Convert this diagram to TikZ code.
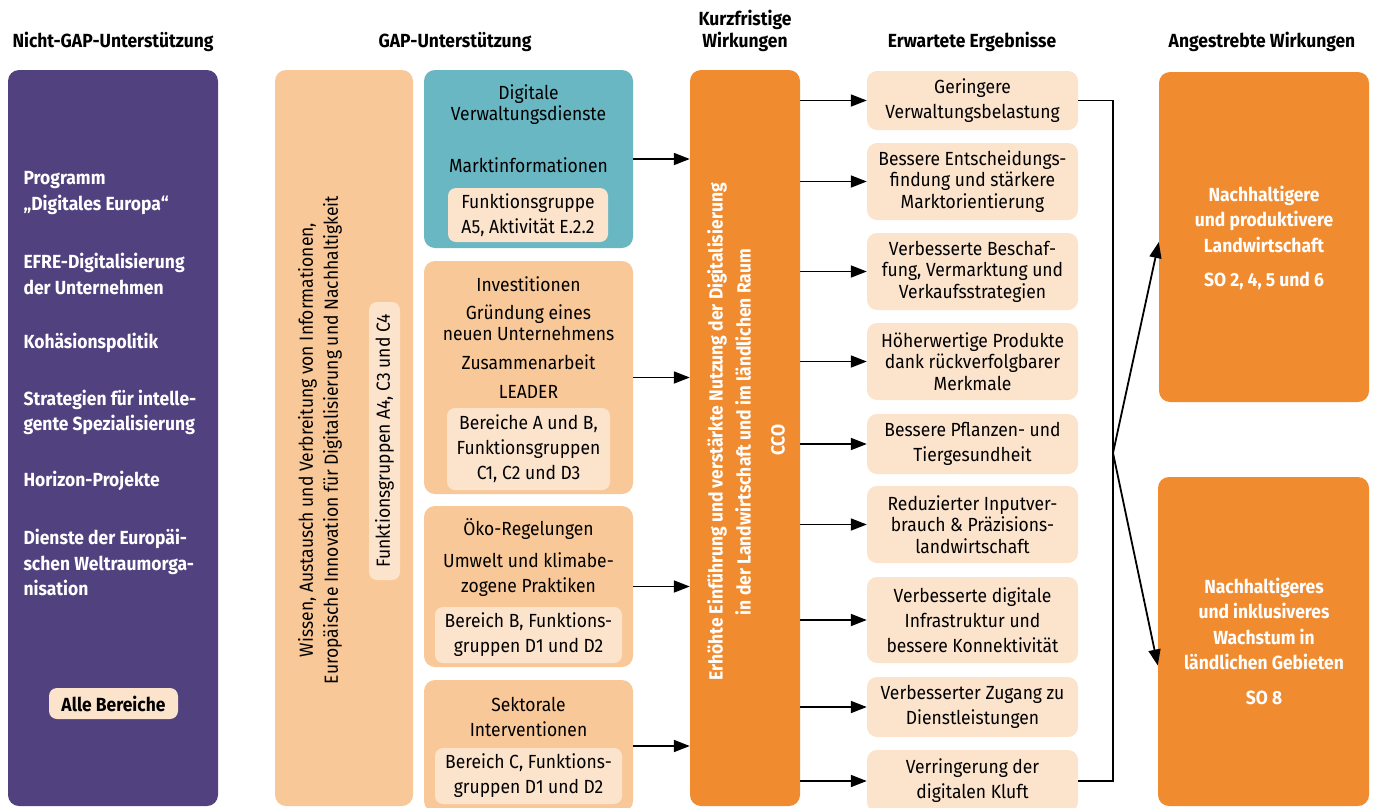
\documentclass[tikz,border=0pt]{standalone}
\usepackage{fontspec}
\setmainfont{Fira Sans}[FakeStretch=0.92]
\usetikzlibrary{arrows.meta}
\definecolor{lila}{HTML}{51417F}
\definecolor{peach}{HTML}{F9C898}
\definecolor{pale}{HTML}{FCE3CC}
\definecolor{petrol}{HTML}{69B7C3}
\definecolor{amber}{HTML}{F08B30}
\tikzset{
  panel/.style={rounded corners=11pt, inner sep=0pt},
  inbox/.style={fill=pale, rounded corners=8pt, inner sep=0pt, align=center, font=\fontsize{19}{25}\selectfont},
  txt/.style={align=center, font=\fontsize{19}{25}\selectfont},
  tight/.style={align=center, font=\fontsize{19}{21.5}\selectfont},
  wlab/.style={text=white, anchor=west, align=left, font=\bfseries\fontsize{19}{25.5}\selectfont},
  wbold/.style={text=white, align=center, font=\bfseries\fontsize{19}{25.5}\selectfont},
  head/.style={align=center, font=\bfseries\fontsize{19}{22}\selectfont},
  res/.style={fill=pale, rounded corners=10pt, inner sep=0pt, minimum width=211pt},
  link/.style={draw=black, line width=1.8pt},
  arr/.style={link, -{Triangle[length=16pt,width=12pt]}},
}
\begin{document}
\begin{tikzpicture}[x=1pt,y=-1pt]
  \useasboundingbox (0,0) rectangle (1377,807);

  % column heads
  \node[head] (hngap) at (113,42) {Nicht-GAP-Unterstützung};
  \node[head] (hgap) at (455,42) {GAP-Unterstützung};
  \node[head] (hkurz) at (745,31) {Kurzfristige\\Wirkungen};
  \node[head] (herg) at (972,42) {Erwartete Ergebnisse};
  \node[head] (hziel) at (1262,42) {Angestrebte Wirkungen};

  % non-GAP column
  \node[panel, fill=lila, minimum width=210pt, minimum height=736pt] (ngap) at (113,438) {};
  \node[wlab] (prog) at (20,193) {Programm\\„Digitales Europa“};
  \node[wlab] (efre) at (20,274) {EFRE-Digitalisierung\\der Unternehmen};
  \node[wlab] (koh) at (20,343) {Kohäsionspolitik};
  \node[wlab] (strat) at (20,412.5) {Strategien für intelle-\\gente Spezialisierung};
  \node[wlab] (hor) at (20,481) {Horizon-Projekte};
  \node[wlab] (esa) at (20,562.5) {Dienste der Europäi-\\schen Weltraumorga-\\nisation};
  \node[inbox, font=\bfseries\fontsize{19}{20}\selectfont, minimum width=129pt, minimum height=31pt] (alle) at (113.5,703.5) {Alle Bereiche};

  % GAP column
  \node[panel, fill=peach, minimum width=138pt, minimum height=736pt] (akis) at (344,438) {};
  \node[txt, rotate=90] (akistxt) at (320,440) {Wissen, Austausch und Verbreitung von Informationen,\\Europäische Innovation für Digitalisierung und Nachhaltigkeit};
  \node[inbox, rotate=90, minimum width=278pt, minimum height=31pt] (akisfg) at (384.5,441) {Funktionsgruppen A4, C3 und C4};

  \node[panel, fill=petrol, minimum width=209pt, minimum height=178pt] (dig) at (528.5,159) {};
  \node[tight] (digt) at (528.5,104.5) {Digitale\\Verwaltungsdienste};
  \node[txt] (markt) at (528.5,165) {Marktinformationen};
  \node[inbox, minimum width=160pt, minimum height=54pt] (digfg) at (528,215) {Funktionsgruppe\\A5, Aktivität E.2.2};

  \node[panel, fill=peach, minimum width=209pt, minimum height=233pt] (inv) at (528.5,377.5) {};
  \node[txt] (invt) at (528.5,284) {Investitionen};
  \node[tight] (gruend) at (528.5,322.5) {Gründung eines\\neuen Unternehmens};
  \node[txt] (zus) at (528.5,362) {Zusammenarbeit};
  \node[txt] (leader) at (528.5,392) {LEADER};
  \node[inbox, minimum width=163pt, minimum height=82pt] (invfg) at (528.5,449) {Bereiche A und B,\\Funktionsgruppen\\C1, C2 und D3};

  \node[panel, fill=peach, minimum width=209pt, minimum height=161pt] (oeko) at (528.5,586.5) {};
  \node[txt] (oekot) at (528.5,529) {Öko-Regelungen};
  \node[txt] (umw) at (528.5,575) {Umwelt und klimabe-\\zogene Praktiken};
  \node[inbox, minimum width=187pt, minimum height=56pt] (oekofg) at (528.5,635) {Bereich B, Funktions-\\gruppen D1 und D2};

  \node[panel, fill=peach, minimum width=209pt, minimum height=132pt] (sekt) at (528.5,746) {};
  \node[txt] (sektt) at (528.5,716.5) {Sektorale\\Interventionen};
  \node[inbox, minimum width=187pt, minimum height=56pt] (sektfg) at (528.5,776) {Bereich C, Funktions-\\gruppen D1 und D2};

  % short-term effect
  \node[panel, fill=amber, minimum width=110pt, minimum height=736pt] (cco) at (745,438) {};
  \node[wbold, font=\bfseries\fontsize{19}{28}\selectfont, rotate=90] (ccotxt) at (729,432) {Erhöhte Einführung und verstärkte Nutzung der Digitalisierung\\in der Landwirtschaft und im ländlichen Raum};
  \node[wbold, rotate=90] (ccolab) at (778,440) {CCO};

  \foreach \src in {dig,inv,oeko,sekt}
    \draw[arr] (\src.east) -- (\src.east -| cco.west);

  % expected results
  \node[res, txt, minimum height=59pt] (r1) at (972.5,100.5) {Geringere\\Verwaltungsbelastung};
  \node[res, tight, minimum height=77pt] (r2) at (972.5,181.5) {Bessere Entscheidungs-\\findung und stärkere\\Marktorientierung};
  \node[res, tight, minimum height=77pt] (r3) at (972.5,271.5) {Verbesserte Beschaf-\\fung, Vermarktung und\\Verkaufsstrategien};
  \node[res, tight, minimum height=77pt] (r4) at (972.5,361.5) {Höherwertige Produkte\\dank rückverfolgbarer\\Merkmale};
  \node[res, txt, minimum height=60pt] (r5) at (972.5,444) {Bessere Pflanzen- und\\Tiergesundheit};
  \node[res, tight, minimum height=77pt] (r6) at (972.5,524.5) {Reduzierter Inputver-\\brauch \& Präzisions-\\landwirtschaft};
  \node[res, txt, minimum height=86pt] (r7) at (972.5,620) {Verbesserte digitale\\Infrastruktur und\\bessere Konnektivität};
  \node[res, txt, minimum height=60pt] (r8) at (972.5,707) {Verbesserter Zugang zu\\Dienstleistungen};
  \node[res, txt, minimum height=62pt] (r9) at (972.5,781) {Verringerung der\\digitalen Kluft};

  \foreach \i in {1,...,9}
    \draw[arr] (cco.east |- r\i.west) -- (r\i.west);

  % intended impacts
  \node[panel, fill=amber, minimum width=210pt, minimum height=330pt] (goal1) at (1264,237) {};
  \node[wbold] (goal1t) at (1264,219) {Nachhaltigere\\und produktivere\\Landwirtschaft};
  \node[wbold] (goal1so) at (1264,281) {SO 2, 4, 5 und 6};
  \node[panel, fill=amber, minimum width=211pt, minimum height=329pt] (goal2) at (1263.5,641.5) {};
  \node[wbold] (goal2t) at (1264,624) {Nachhaltigeres\\und inklusiveres\\Wachstum in\\ländlichen Gebieten};
  \node[wbold] (goal2so) at (1264,698) {SO 8};

  \coordinate (bus) at (1113,453);
  \draw[link] (r1.east) -| (bus) |- (r9.east);
  \draw[arr] (bus) -- ([yshift=-5pt]goal1.west);
  \draw[arr] (bus) -- ([yshift=-24pt]goal2.west);
\end{tikzpicture}
\end{document}
